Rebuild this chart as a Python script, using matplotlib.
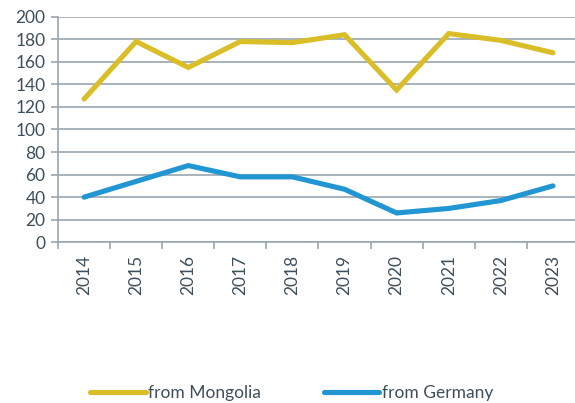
"""
    Line chart: origin of arrivals 2014-2023.
"""

import numpy as np
import matplotlib.pyplot as plt

YEARS = ["2014", "2015", "2016", "2017", "2018", "2019", "2020", "2021", "2022", "2023"]
MONGOLIA = [127, 178, 155, 178, 177, 184, 135, 185, 179, 168]
GERMANY = [40, 54, 68, 58, 58, 47, 26, 30, 37, 50]

TEXT_COLOR = "#3d4f5c"
GRID_COLOR = "#9aa6b0"

plt.rcParams['font.family'] = ['Lato', 'DejaVu Sans']

fig = plt.figure(figsize=(5.75, 4.03), dpi=100)
ax = fig.add_axes([0.1009, 0.3988, 0.906, 0.5598])

x = np.arange(len(YEARS))
ax.plot(x, MONGOLIA, color="#d9be28", lw=3.7, solid_capstyle="round",
        solid_joinstyle="miter", label="from Mongolia", clip_on=False, zorder=3)
ax.plot(x, GERMANY, color="#2196d3", lw=3.7, solid_capstyle="round",
        solid_joinstyle="miter", label="from Germany", clip_on=False, zorder=3)

ax.set_xlim(-0.5, len(YEARS) - 0.5)
ax.set_ylim(0, 200)
ax.set_yticks(range(0, 201, 20))
ax.yaxis.grid(True, color=GRID_COLOR, lw=1.2)
ax.set_axisbelow(True)

ax.set_xticks(x)
ax.set_xticklabels(YEARS, rotation=90)
ax.set_xticks(np.arange(-0.5, len(YEARS), 1), minor=True)
ax.tick_params(axis="x", which="major", length=0, pad=9)
ax.tick_params(axis="x", which="minor", length=5, color=GRID_COLOR, width=1.2)
ax.tick_params(axis="y", length=5, color=GRID_COLOR, width=1.2, pad=4)
ax.tick_params(labelsize=12.5, labelcolor=TEXT_COLOR)

for side in ["top", "right"]:
    ax.spines[side].set_visible(False)
for side in ["left", "bottom"]:
    ax.spines[side].set_color(GRID_COLOR)
    ax.spines[side].set_linewidth(1.2)

handles, labels = ax.get_legend_handles_labels()
leg = fig.legend(handles, labels, loc="center", bbox_to_anchor=(0.507, 0.025),
                 ncol=2, frameon=False, handlelength=3.2, handletextpad=0.15,
                 columnspacing=3.6, fontsize=12.5)
for text in leg.get_texts():
    text.set_color(TEXT_COLOR)

plt.savefig("out.png", dpi=100)
